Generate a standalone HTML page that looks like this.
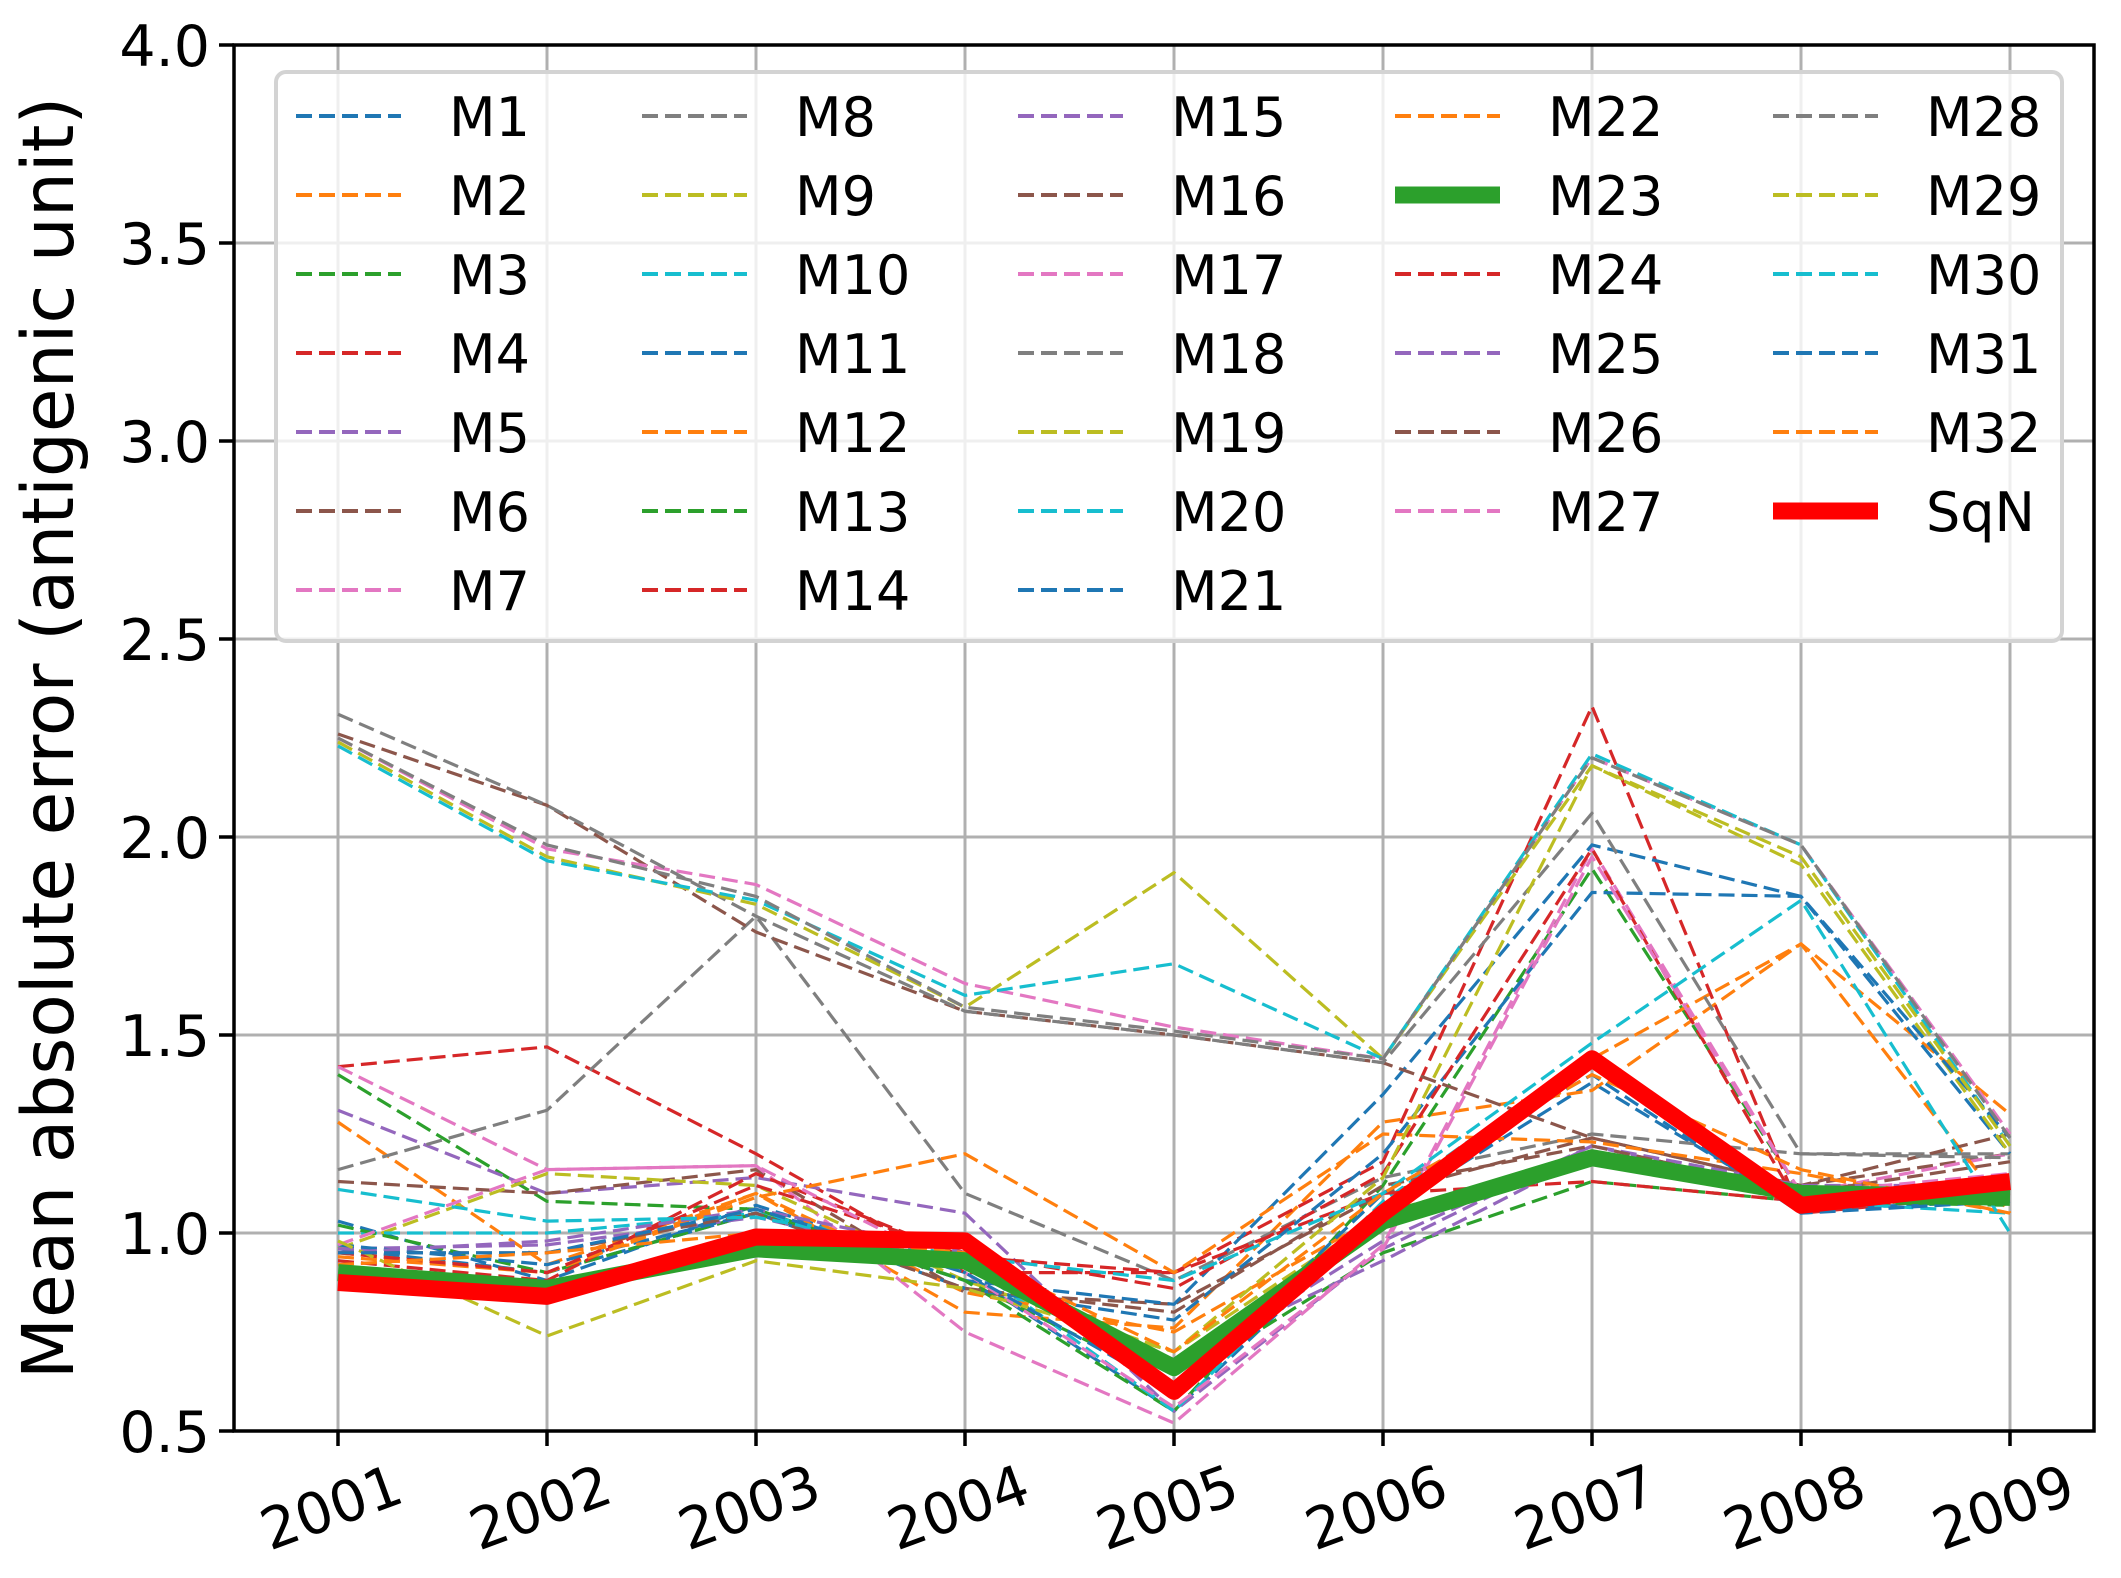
<!DOCTYPE html>
<html><head><meta charset="utf-8"><style>
html,body{margin:0;padding:0;background:#fff}
svg{display:block;font-family:"DejaVu Sans","Liberation Sans",sans-serif}
</style></head><body>
<svg id="chart" width="2121" height="1578" viewBox="0 0 2121 1578" xmlns="http://www.w3.org/2000/svg"></svg>
<script>
const years=["2001","2002","2003","2004","2005","2006","2007","2008","2009"];
const yTicks=[0.5,1.0,1.5,2.0,2.5,3.0,3.5,4.0];
const seriesNames=["M1","M2","M3","M4","M5","M6","M7","M8","M9","M10","M11","M12","M13","M14","M15","M16","M17","M18","M19","M20","M21","M22","M23","M24","M25","M26","M27","M28","M29","M30","M31","M32","SqN"];
const M1=[1.03,0.88,1.07,0.90,0.55,1.05,1.38,1.06,1.08];
const M2=[1.28,0.92,1.10,0.80,0.76,1.28,1.36,1.73,1.30];
const M3=[1.40,1.08,1.06,0.88,0.55,1.12,1.92,1.10,1.10];
const M4=[1.42,1.47,1.20,0.90,0.90,1.18,2.33,1.05,1.10];
const M5=[1.31,1.10,1.14,1.05,0.55,0.96,1.22,1.10,1.10];
const M6=[1.13,1.10,1.16,0.85,0.82,1.10,1.24,1.12,1.20];
const M7=[1.42,1.16,1.17,0.75,0.52,0.97,1.97,1.10,1.20];
const M8=[1.16,1.31,1.80,1.10,0.88,1.14,1.25,1.20,1.20];
const M9=[0.96,1.15,1.12,0.88,0.70,1.05,1.20,1.10,1.12];
const M10=[1.00,1.00,1.05,0.93,0.55,1.08,1.45,1.08,1.05];
const M11=[0.96,0.90,1.05,0.88,0.82,1.35,1.98,1.85,1.20];
const M12=[0.94,0.90,1.10,0.85,0.75,1.05,1.44,1.73,1.05];
const M13=[1.02,0.90,1.05,0.88,0.62,0.95,1.13,1.08,1.07];
const M14=[0.93,0.88,1.15,0.94,0.90,1.10,1.13,1.08,1.08];
const M15=[0.96,0.97,1.04,0.92,0.68,0.93,1.20,1.10,1.10];
const M16=[2.26,2.08,1.76,1.56,1.50,1.43,1.24,1.12,1.25];
const M17=[2.25,1.97,1.88,1.63,1.52,1.44,2.20,1.98,1.25];
const M18=[2.31,2.08,1.80,1.56,1.50,1.43,2.06,1.20,1.19];
const M19=[2.24,1.95,1.83,1.57,1.91,1.44,2.18,1.93,1.20];
const M20=[2.23,1.94,1.84,1.60,1.68,1.44,2.21,1.98,1.22];
const M21=[0.97,0.92,1.05,0.86,0.78,1.20,1.86,1.85,1.24];
const M22=[0.95,0.90,1.09,1.20,0.90,1.25,1.23,1.15,1.05];
const M23=[0.90,0.86,0.96,0.93,0.66,1.03,1.19,1.10,1.09];
const M24=[0.95,0.90,1.12,0.95,0.86,1.15,1.97,1.06,1.10];
const M25=[0.95,0.98,1.06,0.95,0.65,0.98,1.22,1.12,1.12];
const M26=[0.95,0.95,1.05,0.86,0.80,1.12,1.22,1.10,1.18];
const M27=[0.97,1.16,1.17,0.90,0.56,0.96,1.95,1.10,1.15];
const M28=[2.25,1.98,1.85,1.57,1.51,1.44,2.20,1.98,1.24];
const M29=[0.98,0.74,0.93,0.86,0.70,1.14,2.18,1.95,1.22];
const M30=[1.11,1.03,1.04,0.94,0.88,1.10,1.48,1.84,1.00];
const M31=[0.95,0.95,1.06,0.90,0.60,1.10,1.40,1.05,1.08];
const M32=[0.92,0.95,1.00,0.95,0.70,1.10,1.40,1.16,1.05];
const SqN=[0.875,0.84,0.99,0.98,0.60,1.05,1.44,1.07,1.13];
const seriesValues=[M1,M2,M3,M4,M5,M6,M7,M8,M9,M10,M11,M12,M13,M14,M15,M16,M17,M18,M19,M20,M21,M22,M23,M24,M25,M26,M27,M28,M29,M30,M31,M32,SqN];

const tab=["#1f77b4","#ff7f0e","#2ca02c","#d62728","#9467bd","#8c564b","#e377c2","#7f7f7f","#bcbd22","#17becf"];
const NS="http://www.w3.org/2000/svg";
const svg=document.getElementById("chart");
const L=234,R=2094,T=45,B=1431;
const x0=338,xStep=209;
function xs(i){return x0+i*xStep;}
function ys(v){return B-(v-0.5)*(B-T)/3.5;}
function mk(tag,attrs,parent){const e=document.createElementNS(NS,tag);for(const k in attrs)e.setAttribute(k,attrs[k]);(parent||svg).appendChild(e);return e;}
function styleOf(name,si){
  if(name==="SqN")return {color:"#ff0000",w:17,dash:""};
  if(name==="M23")return {color:"#2ca02c",w:17,dash:""};
  return {color:tab[si%10],w:3.2,dash:"16 7"};
}

const grid=mk("g",{});


years.forEach((y,i)=>{const l=mk("line",{x1:xs(i),x2:xs(i),y1:T,y2:B,stroke:"#b0b0b0","stroke-width":3},grid);

});
yTicks.forEach(v=>{const l=mk("line",{x1:L,x2:R,y1:ys(v),y2:ys(v),stroke:"#b0b0b0","stroke-width":3},grid);

});

const lines=mk("g",{});


seriesValues.forEach((vals,si)=>{
  const name=seriesNames[si];
  const s=styleOf(name,si);
  const d=vals.map((v,i)=>(i?"L":"M")+xs(i)+" "+ys(v)).join(" ");
  const p=mk("path",{d:d,fill:"none",stroke:s.color,"stroke-width":s.w,"stroke-dasharray":s.dash,"stroke-linejoin":"round"},lines);
  
  
});
lines.appendChild(lines.children[22]);
lines.appendChild(lines.children[31]);

const ax=mk("g",{});


mk("rect",{x:L,y:T,width:R-L,height:B-T,fill:"none",stroke:"#000","stroke-width":3.5},ax);

const yAxis=mk("g",{});


yTicks.forEach(v=>{
  mk("line",{x1:L-15,x2:L,y1:ys(v),y2:ys(v),stroke:"#000","stroke-width":3.5},yAxis);
  const t=mk("text",{x:L-24,y:ys(v)+21,"text-anchor":"end","font-size":57,fill:"#000"},yAxis);
  t.textContent=v.toFixed(1);
  
  
});
const xAxis=mk("g",{});


years.forEach((y,i)=>{
  mk("line",{x1:xs(i),x2:xs(i),y1:B,y2:B+15,stroke:"#000","stroke-width":3.5},xAxis);
  const t=mk("text",{x:0,y:0,"text-anchor":"middle","font-size":57,fill:"#000",transform:`translate(${xs(i)},${B+95}) rotate(-20)`},xAxis);
  t.textContent=y;
  
  
});
const yl=mk("text",{x:0,y:0,"text-anchor":"middle","font-size":71,fill:"#000",transform:"translate(73,738) rotate(-90)"});
yl.textContent="Mean absolute error (antigenic unit)";



const lg=mk("g",{});


mk("rect",{x:276,y:72,width:1786,height:569,rx:10,fill:"rgba(255,255,255,0.8)",stroke:"#d3d3d3","stroke-width":4},lg);
const colX=[296,642,1018,1395,1773];
const colStart=[0,7,14,21,27,33];
seriesNames.forEach((name,si)=>{
  let c=0;while(si>=colStart[c+1])c++;
  const r=si-colStart[c];
  const y=116+r*79;
  const g=mk("g",{},lg);
  
  
  const s=styleOf(name,si);
  mk("line",{x1:colX[c],x2:colX[c]+105,y1:y,y2:y,stroke:s.color,"stroke-width":s.w===17?17:4,"stroke-dasharray":s.dash},g);
  const t=mk("text",{x:colX[c]+153,y:y+20,"font-size":54,fill:"#000"},g);
  t.textContent=name;
});
</script>
</body></html>
